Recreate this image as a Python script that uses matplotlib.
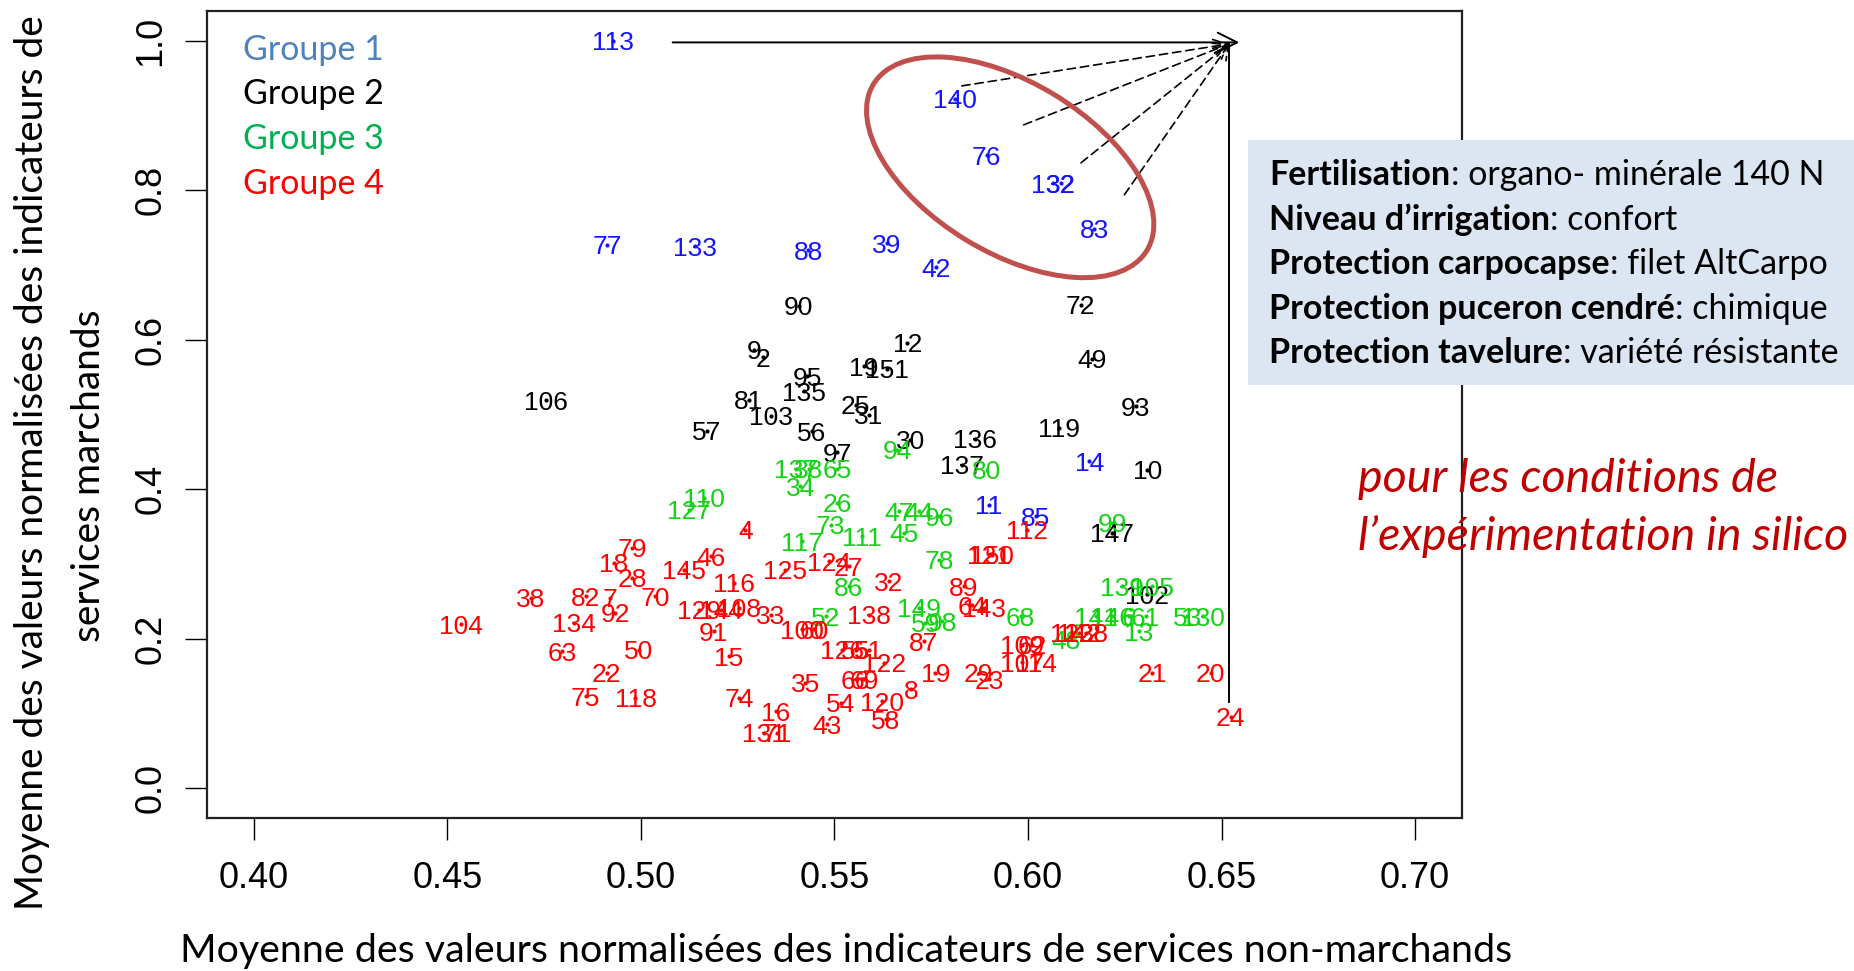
import matplotlib
matplotlib.use("Agg")
import matplotlib.pyplot as plt
import matplotlib.transforms as mtransforms
from matplotlib.patches import Ellipse, FancyArrowPatch, Rectangle

# Groupe 1 (bleu)
g1_labels = ["113", "77", "133", "88", "140", "76", "132", "32", "83", "39", "42", "14", "11", "85"]
g1_x = [0.4929, 0.4913, 0.5140, 0.5432, 0.5812, 0.5893, 0.6065, 0.6085, 0.6171, 0.5636, 0.5762, 0.6158, 0.5899, 0.6020]
g1_y = [1.000, 0.7273, 0.7250, 0.7197, 0.9225, 0.8467, 0.8098, 0.8098, 0.7487, 0.7295, 0.6974, 0.4376, 0.3797, 0.3640]

# Groupe 2 (noir)
g2_labels = ["90", "9", "2", "95", "135", "81", "103", "106", "57", "56", "97", "72", "12", "151",
             "19", "25", "31", "30", "136", "137", "119", "49", "93", "10", "147", "102"]
g2_x = [0.5408, 0.5292, 0.5316, 0.5430, 0.5421, 0.5279, 0.5337, 0.4754, 0.5171, 0.5442, 0.5507, 0.6136, 0.5688, 0.5636,
        0.5576, 0.5555, 0.5589, 0.5696, 0.5864, 0.5830, 0.6080, 0.6166, 0.6278, 0.6308, 0.6218, 0.6308]
g2_y = [0.6457, 0.5869, 0.5771, 0.5512, 0.5311, 0.5200, 0.4987, 0.5191, 0.4786, 0.4777, 0.4500, 0.6471, 0.5960, 0.5611,
        0.5646, 0.5134, 0.5000, 0.4666, 0.4675, 0.4332, 0.4822, 0.5749, 0.5111, 0.4265, 0.3418, 0.2594]

# Groupe 3 (vert)
g3_labels = ["137", "38", "65", "34", "110", "127", "26", "94", "80", "47", "44", "96", "45", "73",
             "111", "117", "78", "86", "149", "59", "98", "52", "68", "48", "139", "105", "141", "146",
             "6", "61", "13", "53", "130", "99"]
g3_x = [0.5400, 0.5434, 0.5507, 0.5412, 0.5163, 0.5124, 0.5507, 0.5662, 0.5894, 0.5667, 0.5718, 0.5770, 0.5680, 0.5490,
        0.5571, 0.5417, 0.5770, 0.5537, 0.5718, 0.5735, 0.5779, 0.5477, 0.5981, 0.6097, 0.6243, 0.6321, 0.6175, 0.6218,
        0.6261, 0.6304, 0.6287, 0.6412, 0.6451, 0.6218]
g3_y = [0.4274, 0.4274, 0.4274, 0.4041, 0.3886, 0.3730, 0.3820, 0.4532, 0.4265, 0.3707, 0.3707, 0.3640, 0.3418, 0.3530,
        0.3373, 0.3306, 0.3061, 0.2705, 0.2416, 0.2215, 0.2237, 0.2303, 0.2303, 0.1992, 0.2705, 0.2705, 0.2303, 0.2303,
        0.2303, 0.2303, 0.2103, 0.2303, 0.2303, 0.3552]

# Groupe 4 (rouge)
g4_labels = ["4", "79", "18", "28", "145", "46", "125", "116", "38", "82", "7", "92", "70", "134", "104",
             "63", "50", "22", "75", "118", "129", "144", "108", "91", "15", "33", "100", "60", "74", "35",
             "16", "131", "71", "43", "124", "27", "112", "121", "150", "32", "89", "143", "64", "138", "87",
             "126", "55", "51", "122", "19", "29", "23", "66", "69", "8", "54", "120", "58", "109", "62",
             "107", "114", "123", "142", "128", "21", "20", "24"]
g4_x = [0.5270, 0.4978, 0.4930, 0.4978, 0.5111, 0.5180, 0.5373, 0.5240, 0.4715, 0.4857, 0.4921, 0.4934, 0.5037, 0.4827, 0.4534,
        0.4797, 0.4995, 0.4912, 0.4857, 0.4986, 0.5150, 0.5206, 0.5253, 0.5188, 0.5227, 0.5335, 0.5417, 0.5447, 0.5253, 0.5425,
        0.5348, 0.5318, 0.5352, 0.5481, 0.5486, 0.5537, 0.5998, 0.5899, 0.5907, 0.5641, 0.5834, 0.5886, 0.5855, 0.5589, 0.5731,
        0.5520, 0.5555, 0.5589, 0.5628, 0.5761, 0.5873, 0.5899, 0.5555, 0.5576, 0.5697, 0.5516, 0.5623, 0.5632, 0.5985, 0.6011,
        0.5985, 0.6020, 0.6114, 0.6131, 0.6149, 0.6321, 0.6472, 0.6524]
g4_y = [0.3463, 0.3218, 0.3017, 0.2817, 0.2928, 0.3106, 0.2928, 0.2750, 0.2550, 0.2571, 0.2550, 0.2349, 0.2571, 0.2215, 0.2193,
        0.1836, 0.1858, 0.1546, 0.1234, 0.1212, 0.2393, 0.2393, 0.2416, 0.2103, 0.1769, 0.2326, 0.2126, 0.2126, 0.1212, 0.1413,
        0.1034, 0.0745, 0.0745, 0.0856, 0.3039, 0.2972, 0.3463, 0.3128, 0.3128, 0.2771, 0.2705, 0.2416, 0.2450, 0.2326, 0.1969,
        0.1858, 0.1858, 0.1858, 0.1680, 0.1547, 0.1547, 0.1457, 0.1457, 0.1457, 0.1324, 0.1146, 0.1167, 0.0922, 0.1925, 0.1925,
        0.1689, 0.1689, 0.2081, 0.2081, 0.2081, 0.1547, 0.1547, 0.0959]

groups = [
    (g1_labels, g1_x, g1_y, "#1414FF"),
    (g2_labels, g2_x, g2_y, "#000000"),
    (g3_labels, g3_x, g3_y, "#14D214"),
    (g4_labels, g4_x, g4_y, "#FF0000"),
]

legend_labels = ["Groupe 1", "Groupe 2", "Groupe 3", "Groupe 4"]
legend_colors = ["#4F81BD", "#000000", "#00B050", "#FF0000"]

x_ticks = [0.40, 0.45, 0.50, 0.55, 0.60, 0.65, 0.70]
y_ticks = [0.0, 0.2, 0.4, 0.6, 0.8, 1.0]

# annotations : point ideal, fleches, ellipse
ideal_x, ideal_y = 0.652, 0.996
arrow_start = (0.5082, 0.998)
arrow_end = (0.6546, 0.998)
dash_start_x = [0.5829, 0.5989, 0.6137, 0.6249]
dash_start_y = [0.9398, 0.8877, 0.8369, 0.7941]
vline_bottom = 0.115
ellipse_center = (0.5954, 0.8309)
ellipse_w_px, ellipse_h_px, ellipse_angle = 320, 170, -31.3

info_bold = ["Fertilisation", "Niveau d\u2019irrigation", "Protection carpocapse",
             "Protection puceron cendr\u00e9", "Protection tavelure"]
info_value = [": organo- min\u00e9rale 140 N", ": confort", ": filet AltCarpo",
              ": chimique", ": vari\u00e9t\u00e9 r\u00e9sistante"]
note_lines = ["pour les conditions de", "l\u2019exp\u00e9rimentation in silico"]

W, H = 1854, 971
R_FONT = "Liberation Sans"
P_FONT = "Lato"

fig = plt.figure(figsize=(W / 100, H / 100), dpi=100)
ax = fig.add_axes([207.4 / W, 1 - 818.3 / H, (1461.5 - 207.4) / W, (818.3 - 11) / H])
ax.set_xlim(0.388, 0.712)
ax.set_ylim(-0.04, 1.04)

for labels, xs, ys, col in groups:
    ax.plot(xs, ys, linestyle="none", marker="o", markersize=2, color=col)
    for lab, x, y in zip(labels, xs, ys):
        ax.text(x, y, lab, color=col, fontsize=19, family=R_FONT,
                ha="center", va="center_baseline")

for sp in ax.spines.values():
    sp.set_linewidth(1.6)
    sp.set_color("#222222")

ax.set_xticks(x_ticks)
ax.set_xticklabels([f"{t:.2f}" for t in x_ticks])
ax.set_yticks(y_ticks)
ax.set_yticklabels([f"{t:.1f}" for t in y_ticks])
ax.tick_params(axis="both", length=16, width=1.0, labelsize=26, direction="out")
ax.tick_params(axis="x", pad=15)
ax.tick_params(axis="y", pad=12, labelrotation=90)
for lab in ax.get_xticklabels() + ax.get_yticklabels():
    lab.set_family(R_FONT)
for lab in ax.get_yticklabels():
    lab.set_va("center")

# fleche 113 -> point ideal
ax.add_patch(FancyArrowPatch(arrow_start, arrow_end, arrowstyle="->,head_length=0.7,head_width=0.35",
                             mutation_scale=20, lw=1.4, color="black", shrinkA=0, shrinkB=0, clip_on=False))
for sx, sy in zip(dash_start_x, dash_start_y):
    ax.add_patch(FancyArrowPatch((sx, sy), (ideal_x, ideal_y), arrowstyle="->,head_length=0.5,head_width=0.25",
                                 mutation_scale=20, lw=1.2, color="black", linestyle=(0, (5, 3)),
                                 shrinkA=0, shrinkB=0, clip_on=False))
ax.plot([ideal_x, ideal_x], [ideal_y, vline_bottom], color="black", lw=1.4)

ell_tr = mtransforms.ScaledTranslation(ellipse_center[0], ellipse_center[1], ax.transData)
ax.add_artist(Ellipse((0, 0), ellipse_w_px, ellipse_h_px, angle=ellipse_angle, fill=False,
                      edgecolor="#C0504D", lw=3.6, transform=ell_tr, clip_on=False))

# legende des groupes
for i, (txt, col) in enumerate(zip(legend_labels, legend_colors)):
    fig.text(242.7 / W, 1 - (60 + 44.5 * i) / H, txt, color=col, fontsize=24.5,
             family=P_FONT, ha="left", va="baseline")

# encadre des conditions
fig.add_artist(Rectangle((1247.8 / W, 1 - 385 / H), 1 - 1247.8 / W, 245 / H,
                         transform=fig.transFigure, facecolor="#DCE6F2", edgecolor="none", zorder=5))
renderer = fig.canvas.get_renderer()
for i, (b, v) in enumerate(zip(info_bold, info_value)):
    yb = 1 - (185 + 44.6 * i) / H
    tb = fig.text(1269.4 / W, yb, b, fontsize=24.5, family=P_FONT, weight="bold",
                  ha="left", va="baseline", zorder=6)
    bb = tb.get_window_extent(renderer)
    fig.text(bb.x1 / W, yb, v, fontsize=24.5, family=P_FONT, ha="left", va="baseline", zorder=6)

for i, line in enumerate(note_lines):
    fig.text(1357.5 / W, 1 - (491.7 + 58.3 * i) / H, line, color="#C00000", fontsize=33.5,
             family=P_FONT, style="italic", ha="left", va="baseline", zorder=6)

# titres des axes
fig.text(846 / W, 1 - 961.7 / H,
         "Moyenne des valeurs normalis\u00e9es des indicateurs de services non-marchands",
         fontsize=28.4, family=P_FONT, ha="center", va="baseline")
fig.text(43.3 / W, 1 - 463 / H, "Moyenne des valeurs normalis\u00e9es des indicateurs de",
         fontsize=28, family=P_FONT, rotation=90, rotation_mode="anchor", ha="center", va="baseline")
fig.text(100 / W, 1 - 476 / H, "services marchands",
         fontsize=28, family=P_FONT, rotation=90, rotation_mode="anchor", ha="center", va="baseline")

fig.savefig("out.png", dpi=100)
